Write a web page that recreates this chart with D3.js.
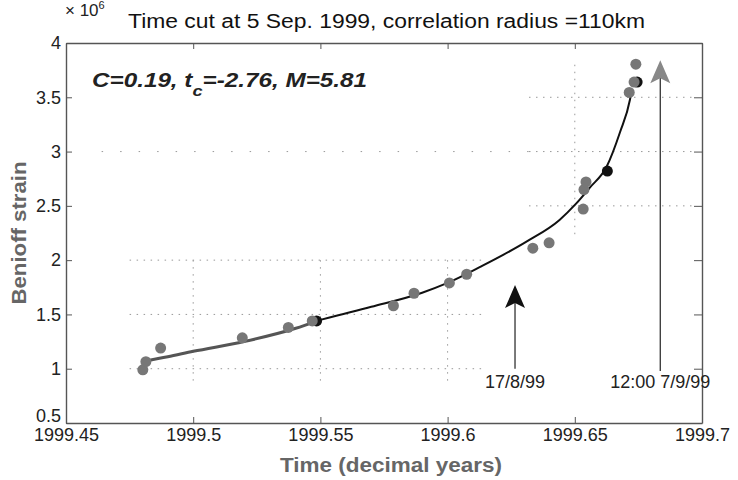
<!DOCTYPE html>
<html>
<head>
<meta charset="utf-8">
<script src="https://cdn.jsdelivr.net/npm/d3@7"></script>
<style>
  body { margin: 0; background: #fff; }
  svg { font-family: "Liberation Sans", Arial, sans-serif; }
</style>
</head>
<body>
<div id="chart"></div>
<script>

// --------------------------------------------------------
// (1) Data
// --------------------------------------------------------

// gray event markers (decimal year, Benioff strain x1e6)
var eventTimes  = [1999.4802, 1999.4814, 1999.4872, 1999.5193, 1999.5374, 1999.5468,
                   1999.5787, 1999.5868, 1999.6007, 1999.6075, 1999.6335, 1999.6399,
                   1999.6533, 1999.6536, 1999.6544, 1999.6714, 1999.6733, 1999.6740]
var eventStrain = [0.99, 1.065, 1.19, 1.285, 1.38, 1.44,
                   1.58, 1.695, 1.79, 1.87, 2.11, 2.16,
                   2.47, 2.65, 2.72, 3.545, 3.64, 3.805]

// black markers
var blackTimes  = [1999.5485, 1999.6628, 1999.6745]
var blackStrain = [1.44, 2.82, 3.64]

// fitted power-law curve
var fitTimes  = [1999.481, 1999.49, 1999.50, 1999.52, 1999.54, 1999.55, 1999.57, 1999.59,
                 1999.60, 1999.613, 1999.631, 1999.644, 1999.6505, 1999.656, 1999.6625,
                 1999.6678, 1999.6717, 1999.6724]
var fitStrain = [1.07, 1.11, 1.16, 1.25, 1.37, 1.45, 1.57, 1.70,
                 1.79, 1.94, 2.17, 2.37, 2.52, 2.67, 2.86,
                 3.18, 3.48, 3.57]

// arrows: date, tip value, foot value, label
var arrowTimes  = [1999.6265, 1999.6836]
var arrowTips   = [1.77, 3.84]
var arrowFoot   = [1.0, 0.98]
var arrowLabels = ["17/8/99", "12:00 7/9/99"]

var xTicks = [1999.45, 1999.5, 1999.55, 1999.6, 1999.65, 1999.7]
var yTicks = [0.5, 1, 1.5, 2, 2.5, 3, 3.5, 4]

// --------------------------------------------------------
// (2) Sizes
// --------------------------------------------------------

var svg_width = 738
var svg_height = 480
const margin = { top: 43, right: 36, bottom: 57, left: 66 }
var width = svg_width - (margin.left + margin.right)
var height = svg_height - (margin.top + margin.bottom)

const svgRoot = d3.select("#chart").append("svg")
    .attr("width", svg_width)
    .attr("height", svg_height)

const svg = svgRoot.append("g")
    .attr("transform", `translate(${margin.left}, ${margin.top})`)

const x = d3.scaleLinear().domain([1999.45, 1999.7]).range([0, width])
const y = d3.scaleLinear().domain([0.5, 4]).range([height, 0])

// --------------------------------------------------------
// (3) Partial dotted grid (as it survives in the scan)
// --------------------------------------------------------

const grid = svg.append("g")
    .attr("stroke", "#999")
    .attr("stroke-width", 1)
    .attr("stroke-dasharray", "1.5,5.5")

// lower-left block
;[1, 1.5, 2].forEach(v => {
  grid.append("line")
    .attr("x1", x(1999.475)).attr("x2", x(1999.615))
    .attr("y1", y(v)).attr("y2", y(v))
})
;[1999.5, 1999.55, 1999.6].forEach(t => {
  grid.append("line")
    .attr("x1", x(t)).attr("x2", x(t))
    .attr("y1", y(2)).attr("y2", y(0.85))
})
// upper-right block
;[2.5, 3, 3.5].forEach(v => {
  grid.append("line")
    .attr("x1", x(1999.632)).attr("x2", x(1999.698))
    .attr("y1", y(v)).attr("y2", y(v))
})
grid.append("line")
  .attr("x1", x(1999.65)).attr("x2", x(1999.65))
  .attr("y1", y(3.8)).attr("y2", y(2.2))
// faint remains of the y = 3 line
grid.append("line")
  .attr("x1", x(1999.464)).attr("x2", x(1999.632))
  .attr("y1", y(3)).attr("y2", y(3))
  .attr("stroke-dasharray", "1.5,17")

// --------------------------------------------------------
// (4) Axes
// --------------------------------------------------------

function styleAxis(g) {
  g.selectAll("path.domain").attr("stroke", "#555").attr("stroke-width", 1.4)
  g.selectAll(".tick line").attr("stroke", "#555")
  g.selectAll("text").attr("fill", "#222").style("font-size", "18px")
    .style("font-family", "'Liberation Sans', Arial, sans-serif")
}

svg.append("g")
  .attr("transform", `translate(0, ${height})`)
  .call(d3.axisBottom(x).tickValues(xTicks).tickSize(-6).tickSizeOuter(0).tickPadding(5)
        .tickFormat(d3.format("")))
  .call(styleAxis)

svg.append("g")
  .call(d3.axisLeft(y).tickValues(yTicks).tickSize(-6).tickSizeOuter(0).tickPadding(5)
        .tickFormat(d3.format("")))
  .call(styleAxis)
  .selectAll(".tick text").filter(d => d === 0.5).attr("dy", "-0.1em")

svg.append("g")
  .call(d3.axisTop(x).tickValues(xTicks).tickSize(-6).tickSizeOuter(0).tickFormat(""))
  .call(styleAxis)

svg.append("g")
  .attr("transform", `translate(${width}, 0)`)
  .call(d3.axisRight(y).tickValues(yTicks).tickSize(-8).tickSizeOuter(0).tickFormat(""))
  .call(styleAxis)

// --------------------------------------------------------
// (5) Fitted curve + markers
// --------------------------------------------------------

const fit = fitTimes.map((t, i) => ({ t: t, v: fitStrain[i] }))
const line = d3.line().x(d => x(d.t)).y(d => y(d.v)).curve(d3.curveMonotoneX)

svg.append("path")
  .datum(fit.filter(d => d.t <= 1999.55))
  .attr("fill", "none").attr("stroke", "#555").attr("stroke-width", 3)
  .attr("d", line)
svg.append("path")
  .datum(fit.filter(d => d.t >= 1999.55))
  .attr("fill", "none").attr("stroke", "#111").attr("stroke-width", 2)
  .attr("d", line)

svg.selectAll(".black")
  .data(blackTimes.map((t, i) => ({ t: t, v: blackStrain[i] })))
  .join("circle")
    .attr("cx", d => x(d.t)).attr("cy", d => y(d.v)).attr("r", 5.5)
    .attr("fill", "#111")

svg.selectAll(".ev")
  .data(eventTimes.map((t, i) => ({ t: t, v: eventStrain[i] })))
  .join("circle")
    .attr("cx", d => x(d.t)).attr("cy", d => y(d.v)).attr("r", 5.5)
    .attr("fill", "#777")

// --------------------------------------------------------
// (6) Arrows with dates
// --------------------------------------------------------

const arrowColors = ["#111", "#888"]
arrowTimes.forEach((t, i) => {
  const ax = x(t), tip = y(arrowTips[i]), foot = y(arrowFoot[i])
  svg.append("line")
    .attr("x1", ax).attr("x2", ax).attr("y1", tip + 10).attr("y2", foot)
    .attr("stroke", "#333").attr("stroke-width", 1.3)
  svg.append("path")
    .attr("d", `M${ax},${tip} L${ax - 10},${tip + 23} L${ax},${tip + 18} L${ax + 10},${tip + 23} Z`)
    .attr("fill", arrowColors[i])
  svg.append("text")
    .attr("x", ax).attr("y", 388 - margin.top)
    .attr("text-anchor", "middle")
    .style("font-size", "18px").attr("fill", "#222")
    .text(arrowLabels[i])
})

// --------------------------------------------------------
// (7) Titles and labels
// --------------------------------------------------------

svgRoot.append("text")
  .attr("x", 128).attr("y", 28)
  .attr("textLength", 517).attr("lengthAdjust", "spacingAndGlyphs")
  .style("font-size", "20px").attr("fill", "#111")
  .text("Time cut at 5 Sep. 1999, correlation radius =110km")

const mult = svgRoot.append("text").attr("x", 65).attr("y", 16)
  .style("font-size", "17px").attr("fill", "#222")
mult.append("tspan").text("× 10")
mult.append("tspan").attr("dy", -7).style("font-size", "11px").text("6")

const ann = svgRoot.append("text").attr("x", 92).attr("y", 87)
  .attr("textLength", 275).attr("lengthAdjust", "spacingAndGlyphs")
  .style("font-size", "20px").style("font-weight", "bold").style("font-style", "italic")
  .attr("fill", "#222")
ann.append("tspan").text("C=0.19, t")
ann.append("tspan").attr("dy", 9).style("font-size", "15px").text("c")
ann.append("tspan").attr("dy", -9).text("=-2.76, M=5.81")

svgRoot.append("text")
  .attr("x", 391).attr("y", 472)
  .attr("text-anchor", "middle")
  .attr("textLength", 222).attr("lengthAdjust", "spacingAndGlyphs")
  .style("font-size", "20px").style("font-weight", "bold").attr("fill", "#666")
  .text("Time (decimal years)")

svgRoot.append("text")
  .attr("transform", "translate(26, 233) rotate(-90)")
  .attr("text-anchor", "middle")
  .attr("textLength", 143).attr("lengthAdjust", "spacingAndGlyphs")
  .style("font-size", "20px").style("font-weight", "bold").attr("fill", "#666")
  .text("Benioff strain")

</script>
</body>
</html>
